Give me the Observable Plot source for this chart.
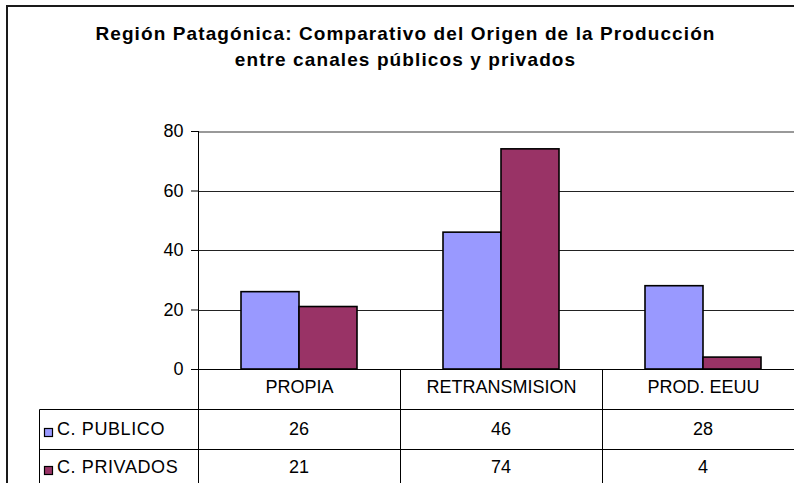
<!DOCTYPE html>
<html><head><meta charset="utf-8">
<script src="https://cdn.jsdelivr.net/npm/d3@7"></script>
<script src="https://cdn.jsdelivr.net/npm/@observablehq/plot@0.6"></script>
<style>
html,body{margin:0;padding:0;background:#fff;overflow:hidden;width:794px;height:483px;}
#frame{position:absolute;left:6px;top:5px;width:1000px;height:1000px;border:2px solid #1a1a1a;box-sizing:border-box;}
#title{position:absolute;left:0;top:21px;width:811px;text-align:center;font:bold 19px "Liberation Sans",Arial,sans-serif;line-height:26px;letter-spacing:1.1px;color:#000;}
#chart{position:absolute;left:0;top:0;}
</style></head><body>
<div id="frame"></div>
<div id="title">Región Patagónica: Comparativo del Origen de la Producción<br>entre canales públicos y privados</div>
<div id="chart"></div>
<script>
const categories = ["PROPIA", "RETRANSMISION", "PROD. EEUU"];
const seriesNames = ["C. PUBLICO", "C. PRIVADOS"];
const publico = [26, 46, 28];
const privados = [21, 74, 4];
const yTicks = [0, 20, 40, 60, 80];
const colors = ["#9999FF", "#993366"];

const seriesValues = [publico, privados];
const data = categories.flatMap((c, i) => seriesNames.map((s, k) => ({cat: c, series: s, value: seriesValues[k][i]})));

const W = 811, H = 483;
const font = '"Liberation Sans", Arial, sans-serif';
const chart = Plot.plot({
  width: W, height: H,
  marginLeft: 197, marginRight: 6.5, marginTop: 131, marginBottom: 114,
  style: {fontSize: "18px", fontFamily: font, color: "#000", background: "transparent", maxWidth: "none", overflow: "visible"},
  fx: {domain: categories, padding: 0, tickSize: 0, tickPadding: 11, label: null, axis: "bottom"},
  x: {domain: seriesNames, axis: null, paddingInner: 0, paddingOuter: 0.738},
  y: {domain: [0, 80], ticks: yTicks, tickSize: 7, tickPadding: 8, label: null},
  color: {domain: seriesNames, range: colors},
  marks: [
    Plot.ruleY(yTicks.filter(t => t > 0 && t < 80), {stroke: "#222", strokeWidth: 1, shapeRendering: "crispEdges"}),
    Plot.ruleY([80], {stroke: "#999", strokeWidth: 2, shapeRendering: "crispEdges"}),
    Plot.barY(data, {fx: "cat", x: "series", y: "value", fill: "series", stroke: "#000", strokeWidth: 1.6, inset: 0}),
    Plot.ruleY([0], {stroke: "#000", strokeWidth: 1, shapeRendering: "crispEdges"})
  ]
});
document.getElementById("chart").appendChild(chart);

// data table beneath the chart, positioned from Plot's own scales
const svg = d3.select(chart);
const fxs = chart.scale("fx"), ys = chart.scale("y");
const bw = fxs.bandwidth;
const x0 = Math.round(fxs.apply(categories[0])) + 0.5;
const yBase = ys.apply(0);
const headerH = 40, rowH = 40, tableLeft = 39.5;
const rowBaseline = [26, 24];
const g = svg.append("g").attr("stroke", "#000").attr("stroke-width", 1).attr("fill", "none");
g.append("line").attr("x1", x0).attr("x2", x0).attr("y1", ys.apply(80)).attr("y2", H);
categories.forEach((c, i) => {
  if (i > 0) {
    const x = Math.round(fxs.apply(c)) + 0.5;
    g.append("line").attr("x1", x).attr("x2", x).attr("y1", yBase).attr("y2", H);
  }
});
seriesNames.forEach((s, k) => {
  const top = Math.round(yBase + headerH + k * rowH) + 0.5;
  g.append("line").attr("x1", tableLeft).attr("x2", W).attr("y1", top).attr("y2", top);
});
g.append("line").attr("x1", tableLeft).attr("x2", tableLeft).attr("y1", Math.round(yBase + headerH) + 0.5).attr("y2", H);

const t = svg.append("g").attr("font-family", font).attr("font-size", 18).attr("fill", "#000");
seriesNames.forEach((s, k) => {
  const top = yBase + headerH + k * rowH;
  const base = top + rowBaseline[k];
  t.append("rect").attr("x", 44.5).attr("y", Math.round(base - 7) + 0.5).attr("width", 8).attr("height", 8)
    .attr("fill", colors[k]).attr("stroke", "#000").attr("stroke-width", 1.2);
  t.append("text").attr("x", 57).attr("y", base).attr("text-anchor", "start").attr("letter-spacing", 0.6).text(s);
  categories.forEach((c, i) => {
    t.append("text").attr("x", fxs.apply(c) + bw / 2).attr("y", base).attr("text-anchor", "middle").text(seriesValues[k][i]);
  });
});
</script>
</body></html>
